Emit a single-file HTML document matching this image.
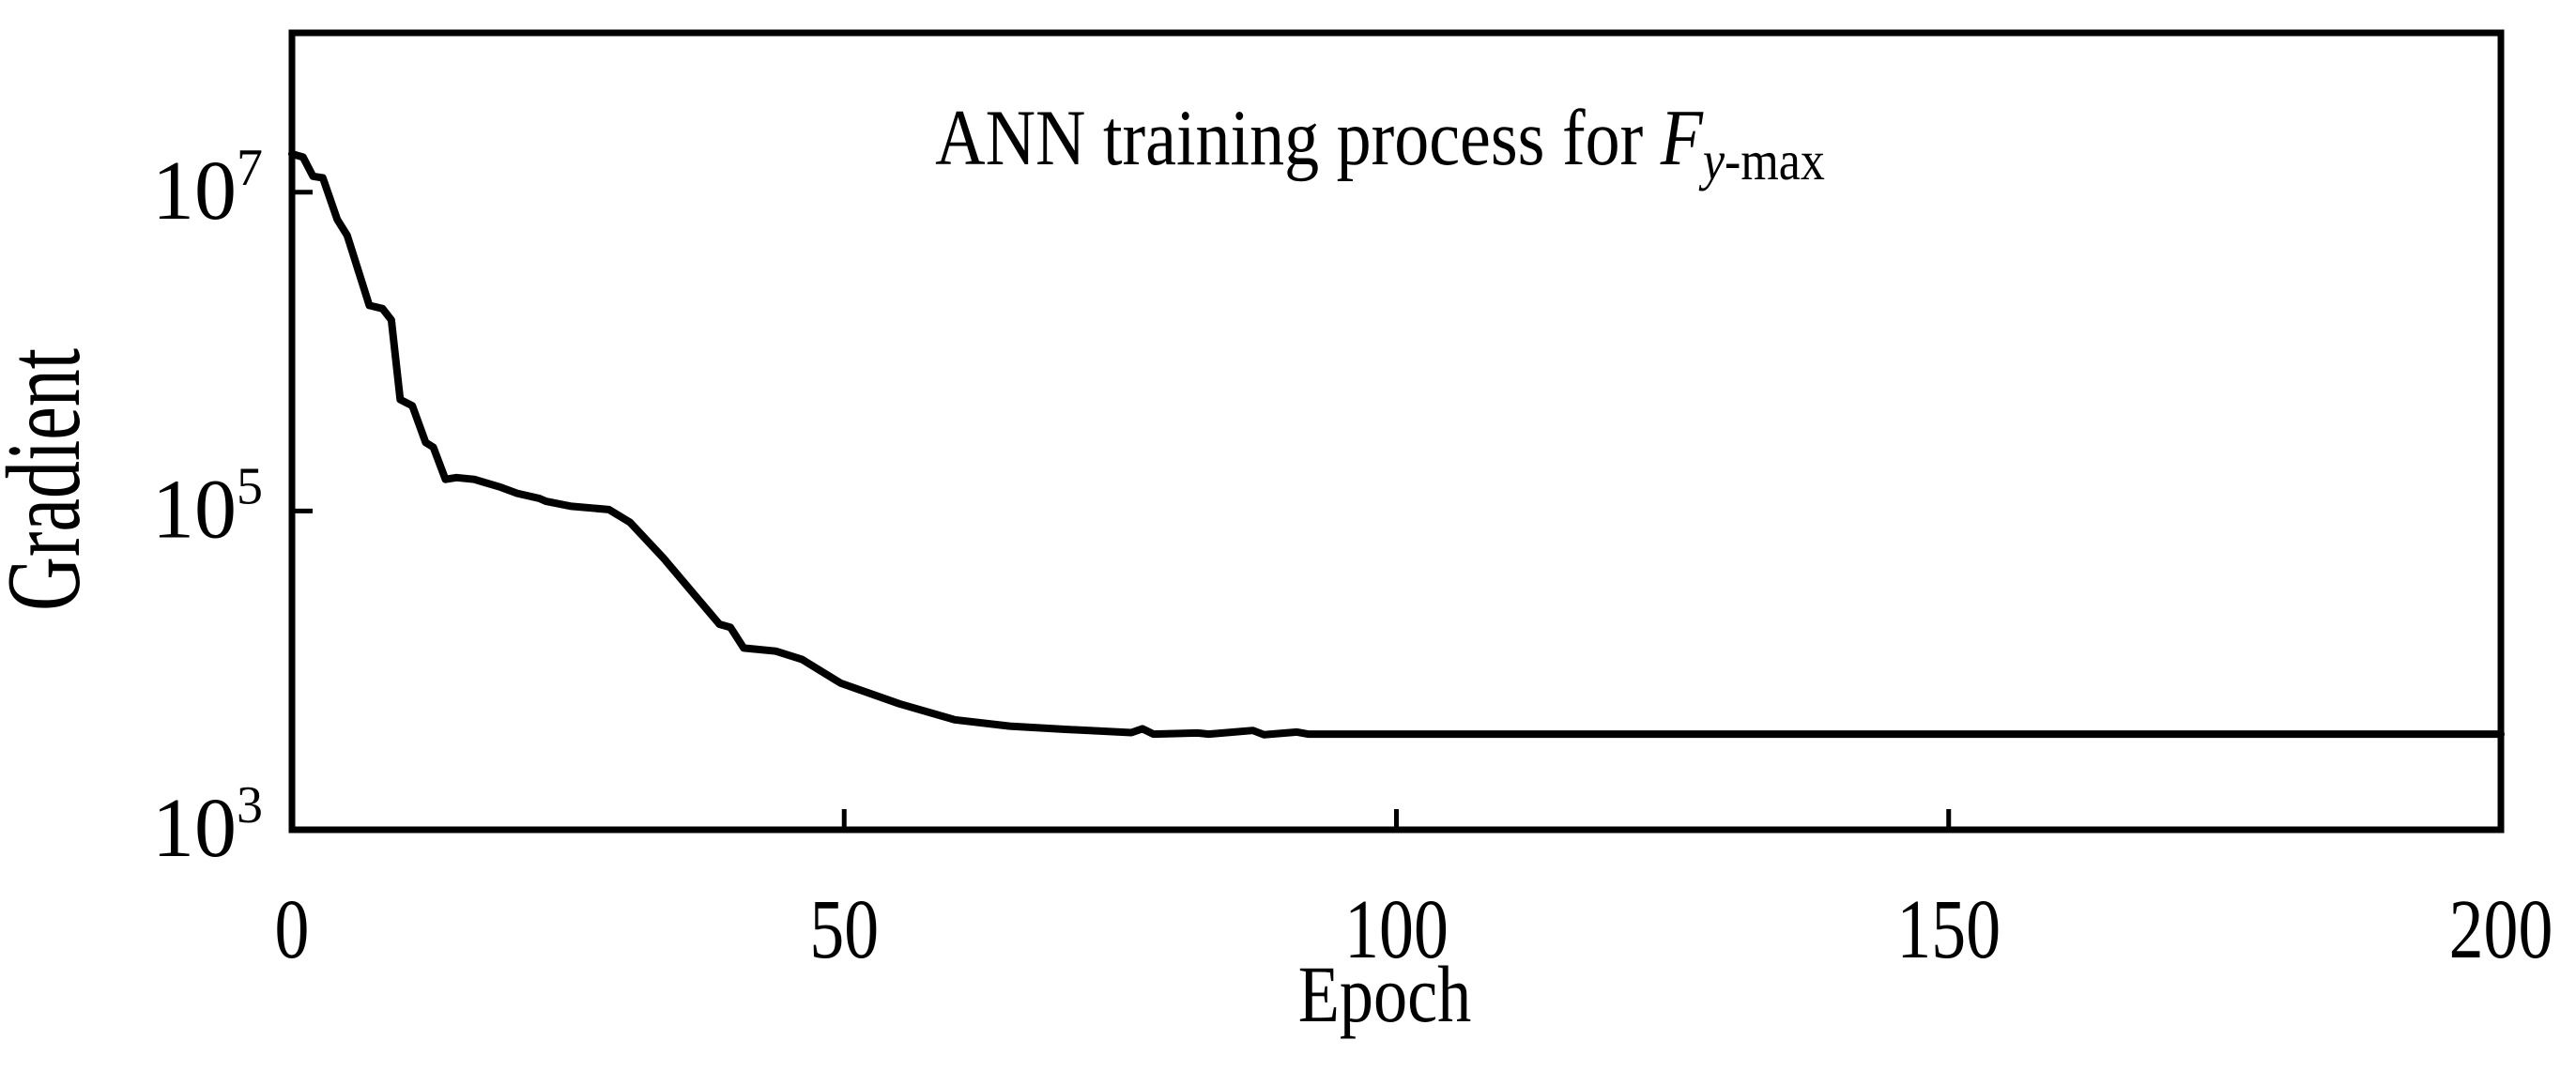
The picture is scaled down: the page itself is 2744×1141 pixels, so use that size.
<!DOCTYPE html>
<html><head><meta charset="utf-8"><style>
html,body{margin:0;padding:0;background:#fff;}
svg text{font-family:"Liberation Serif",serif;fill:#000;}
</style></head>
<body>
<svg id="chart" width="2744" height="1136" viewBox="0 0 2744 1136" xmlns="http://www.w3.org/2000/svg">
<rect x="0" y="0" width="2744" height="1136" fill="#fff"/>
<g id="ticks"></g>
<path id="series" fill="none" stroke="#000" stroke-width="8" stroke-linejoin="round" stroke-linecap="round"/>
<rect x="311" y="35" width="2353" height="849" fill="none" stroke="#000" stroke-width="7"/>
<text transform="translate(1470,175) scale(1,1.15)" font-size="74" text-anchor="middle">ANN training process for <tspan font-style="italic">F</tspan><tspan font-style="italic" font-size="52" dy="14">y</tspan><tspan font-size="52">-max</tspan></text>
<text transform="translate(1475,1088) scale(0.84,1)" font-size="86" text-anchor="middle">Epoch</text>
<text transform="translate(84,511) rotate(-90) scale(1,1.4)" font-size="80" text-anchor="middle">Gradient</text>
</svg>
<script>
const epochs=[0,1,1.9,2.8,4.1,5,7,8.2,9,9.8,10.9,12.1,12.8,13.9,14.9,16.5,18.9,20.4,22.4,23,25.3,28.7,30.6,33.6,38.7,39.7,40.9,43.8,46.2,49.7,55,60,65,70,76,77,78,82,83,87,88,91,92,95,200];
const gradients=[17400000,16600000,12600000,12300000,6760000,5370000,1950000,1860000,1580000,500000,457000,269000,251000,158000,162000,158000,141000,129000,120000,115000,107000,102000,85000,51000,19500,18600,13800,13200,11700,8300,6170,4900,4470,4270,4070,4300,3980,4050,3980,4200,3950,4100,3980,3980,3980];
const xTicks=[0,50,100,150,200];
const yTickExps=[3,5,7];
const X0=311,X1=2664,Y0=884,Y1=35,XMAX=200,LMIN=3,LMAX=8;
function xs(v){return X0+(v/XMAX)*(X1-X0);}
function ys(v){return Y0-(Math.log10(v)-LMIN)/(LMAX-LMIN)*(Y0-Y1);}
const NS="http://www.w3.org/2000/svg";
const g=document.getElementById('ticks');
let d='';
epochs.forEach((e,i)=>{d+=(i?'L':'M')+xs(e).toFixed(1)+' '+ys(gradients[i]).toFixed(1);});
document.getElementById('series').setAttribute('d',d);
xTicks.forEach(t=>{
  const l=document.createElementNS(NS,'line');
  
  
  l.setAttribute('x1',xs(t));l.setAttribute('x2',xs(t));l.setAttribute('y1',Y0);l.setAttribute('y2',Y0-22);
  l.setAttribute('stroke','#000');l.setAttribute('stroke-width','5');g.appendChild(l);
  const tx=document.createElementNS(NS,'text');
  
  
  tx.setAttribute('transform','translate('+xs(t)+',1020) scale(0.82,1)');
  tx.setAttribute('font-size','90');tx.setAttribute('text-anchor','middle');
  tx.textContent=t;g.appendChild(tx);
});
yTickExps.forEach(e=>{
  const y=ys(Math.pow(10,e));
  const l=document.createElementNS(NS,'line');
  
  
  l.setAttribute('x1',X0);l.setAttribute('x2',X0+22);l.setAttribute('y1',y);l.setAttribute('y2',y);
  l.setAttribute('stroke','#000');l.setAttribute('stroke-width','5');g.appendChild(l);
  const tx=document.createElementNS(NS,'text');
  
  
  tx.setAttribute('x',280);tx.setAttribute('y',y+28);tx.setAttribute('font-size','90');tx.setAttribute('text-anchor','end');
  tx.textContent='10';
  const sp=document.createElementNS(NS,'tspan');
  sp.setAttribute('font-size','56');sp.setAttribute('dy','-36');sp.textContent=e;
  tx.appendChild(sp);g.appendChild(tx);
});
</script>
</body></html>
